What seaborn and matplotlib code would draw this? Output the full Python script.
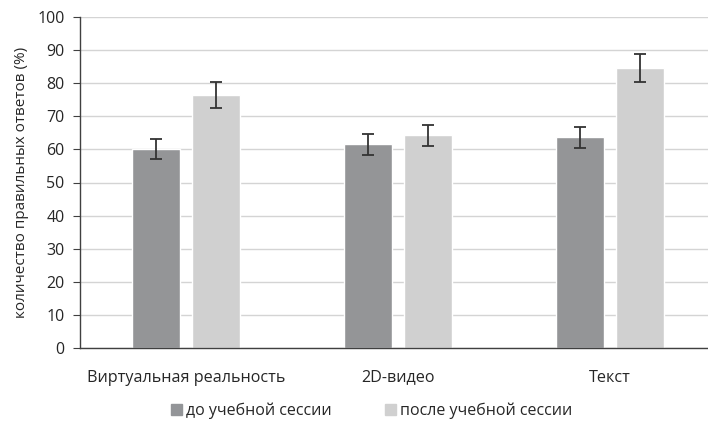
import pandas as pd
import numpy as np
import matplotlib
matplotlib.use("Agg")
import matplotlib.pyplot as plt
import seaborn as sns

# Данные
categories = ["Виртуальная реальность", "2D-видео", "Текст"]
before = [60.0, 61.5, 63.6]
after = [76.5, 64.3, 84.7]
before_err = [3.0, 3.1, 3.2]
after_err = [4.0, 3.2, 4.2]
series = ["до учебной сессии", "после учебной сессии"]
colors = ["#939598", "#d0d0d0"]

sns.set_style("white")
plt.rcParams['font.family'] = ['Open Sans', 'DejaVu Sans']

df = pd.DataFrame({
    "cat": categories * 2,
    "val": before + after,
    "err": before_err + after_err,
    "ser": [series[0]] * 3 + [series[1]] * 3,
})

fig = plt.figure(figsize=(7.08, 4.24), dpi=100)
ax = fig.add_axes([80 / 708, 1 - 348 / 424, 1 - 80 / 708, (348 - 17) / 424])

sns.barplot(data=df, x="cat", y="val", hue="ser", palette=colors,
            order=categories, hue_order=series, width=0.572, gap=0.21,
            errorbar=None, ax=ax, legend=False, zorder=2)

# Планки погрешностей
for i, s in enumerate(series):
    bars = ax.containers[i]
    sub = df[df["ser"] == s].set_index("cat").loc[categories]
    xs = [b.get_x() + b.get_width() / 2 for b in bars]
    ax.errorbar(xs, sub["val"], yerr=sub["err"], fmt="none",
                ecolor="#333333", elinewidth=1.3, capsize=4.5, capthick=1.3, zorder=3)

ax.set_ylim(0, 100)
ax.set_xlim(-0.5, 2.462)
ax.set_yticks(range(0, 101, 10))
ax.yaxis.grid(True, color="#d4d4d4", linewidth=1)
ax.set_axisbelow(True)
for sp in ["top", "right"]:
    ax.spines[sp].set_visible(False)
for sp in ["left", "bottom"]:
    ax.spines[sp].set_color("#404040")
    ax.spines[sp].set_linewidth(1)
ax.tick_params(axis="y", left=True, length=5, color="#404040", labelsize=11.5, pad=6)
ax.tick_params(axis="x", bottom=False, labelsize=11.6, pad=12)
ax.set_xlabel("")
ax.set_ylabel("количество правильных ответов (%)", fontsize=11, labelpad=6)

handles = [plt.Rectangle((0, 0), 1, 1, color=c) for c in colors]
fig.legend(handles, series, loc="center", ncol=2, frameon=False,
           bbox_to_anchor=(0.525, 0.032), fontsize=11.5, handlelength=0.7,
           handleheight=0.7, handletextpad=0.25, columnspacing=3.3)

plt.savefig("out.png", dpi=100)
